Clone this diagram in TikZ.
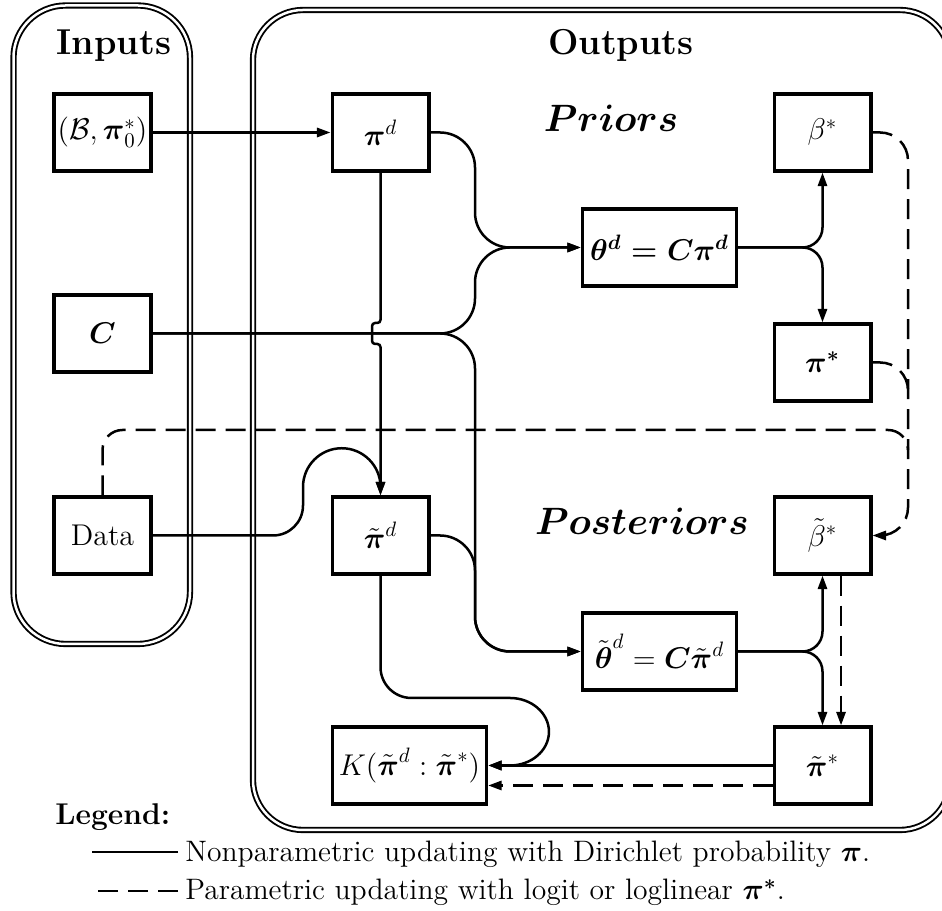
\RequirePackage{fix-cm}
\documentclass[tikz,border=0pt]{standalone}
\usepackage{amsmath}
\usepackage{tikz}
\usetikzlibrary{calc,positioning,arrows.meta}
\tikzstyle{VarBox} = [rectangle, draw, line width=1.5pt, inner sep=0pt,
    minimum width=46.5pt, minimum height=37pt, font=\Large]
\tikzstyle{WideBox} = [VarBox, minimum width=74pt]
\tikzstyle{Frame} = [double, line width=0.9pt, double distance=1.2pt]
\tikzstyle{Link} = [line width=1.2pt]
\tikzstyle{DashLink} = [line width=1.2pt, dash pattern=on 9.6pt off 4.8pt]
\tikzstyle{arrow} = [Link,->,>={Triangle[length=6.5pt,width=4.4pt]}]
\tikzstyle{dasharrow} = [DashLink,->,>={Triangle[length=6.5pt,width=4.4pt]}]

\begin{document}
\begin{tikzpicture}[x=0.48pt, y=0.48pt]
        \useasboundingbox (0,0) rectangle (942,911);
        \clip (0,0) rectangle (942,911);
        \draw [Frame, rounded corners=25pt] (13.5,267) rectangle (190,905.5); %inputs frame
        \draw [Frame, rounded corners=24pt] (253,81) rectangle (950,901); %outputs frame
        \node [anchor=base, font=\LARGE\bfseries] (InputsLbl) at (114,856) {Inputs};
        \node [anchor=base, font=\LARGE\bfseries] (OutputsLbl) at (621,856) {Outputs};
        \node [anchor=base, font=\fontsize{18.3}{22}\selectfont] (PriorsLbl) at (611,779) {$\boldsymbol{Priors}$};
        \node [anchor=base, font=\fontsize{18.3}{22}\selectfont] (PostLbl) at (642,376) {$\boldsymbol{Posteriors}$};
        % inputs
        \node [VarBox] (BPrior) at (102.5,778.5) {$(\mathcal{B},\boldsymbol{\pi}_0^*)$};
        \node [VarBox] (CMat) at (102.5,577.5) {$\boldsymbol{C}$};
        \node [VarBox] (Data) at (102.5,375.5) {Data};
        % priors
        \node [VarBox] (PiD) at (380.5,778.5) {$\boldsymbol{\pi}^d$};
        \node [WideBox] (ThetaD) at (659.5,663.5) {$\boldsymbol{\theta^d = C\pi^d}$};
        \node [VarBox] (BetaS) at (822.5,778.5) {$\beta^*$};
        \node [VarBox] (PiS) at (822.5,548.5) {$\boldsymbol{\pi^*}$};
        % posteriors
        \node [VarBox] (PiTD) at (380.5,375.5) {$\tilde{\boldsymbol{\pi}}^d$};
        \node [WideBox] (ThetaTD) at (659.5,259.5) {$\tilde{\boldsymbol{\theta}}^d = \boldsymbol{C}\tilde{\boldsymbol{\pi}}^d$};
        \node [VarBox] (BetaTS) at (822.5,375.5) {$\tilde{\beta}^*$};
        \node [VarBox] (PiTS) at (822.5,145.5) {$\tilde{\boldsymbol{\pi}}^*$};
        \node [WideBox] (KDiv) at (409.5,145.5) {$K(\tilde{\boldsymbol{\pi}}^d : \tilde{\boldsymbol{\pi}}^*)$};

        \draw [arrow] (BPrior.east) -- (PiD.west);
        \draw [arrow] [rounded corners=16.8pt] (PiD.east) -- (475,778.5) -- (475,663.5) [rounded corners=8.6pt] -- (ThetaD.west);
        \draw [arrow] [rounded corners=16.8pt] (CMat.east) -- (475,577.5) -- (475,663.5) [rounded corners=8.6pt] -- (ThetaD.west);
        \draw [arrow] [rounded corners=16.8pt] (CMat.east) -- (475,577.5) -- (475,259.5) [rounded corners=8.6pt] -- (ThetaTD.west);
        \draw [arrow] [rounded corners=16.8pt] (PiTD.east) -- (475,375.5) -- (475,259.5) [rounded corners=8.6pt] -- (ThetaTD.west);
        \draw [arrow, rounded corners=1.5pt] (PiD.south) -- (380.5,588) -- (372,588) -- (372,567) -- (380.5,567) -- (PiTD.north); %jump over C
        \draw [arrow] (Data.east) -- (273,375.5) to[out=0, in=-90] (303,405.5) -- (303,424)
            arc [start angle=180, end angle=0, radius=18.6pt] -- (PiTD.north);
        \draw [arrow, rounded corners=9.6pt] (ThetaD.east) -| (BetaS.south);
        \draw [arrow, rounded corners=9.6pt] (ThetaD.east) -| (PiS.north);
        \draw [arrow, rounded corners=9.6pt] (ThetaTD.east) -| (BetaTS.south);
        \draw [arrow, rounded corners=9.6pt] (ThetaTD.east) -| (PiTS.north);
        \draw [arrow] (PiTD.south) -- (380.5,244) to[out=-90, in=180] (411.5,213) -- (510,213)
            arc [start angle=90, end angle=-90, x radius=18.7pt, y radius=16.2pt] -- (KDiv.east);
        \draw [arrow, line width=1.9pt] (PiTS.west) -- (KDiv.east);
        % parametric updating
        \draw [dasharrow, rounded corners=13.4pt] (BetaS.east) -- (908,778.5) -- (908,375.5) -- (BetaTS.east);
        \draw [DashLink, rounded corners=13.4pt] (PiS.east) -- (908,548.5) -- (908,520.5);
        \draw [DashLink, rounded corners=9.6pt] (Data.north) -- (102.5,481) -- (908,481) -- (908,461);
        \draw [dasharrow] ([xshift=8.9pt]BetaTS.south) -- ([xshift=8.9pt]PiTS.north);
        \draw [dasharrow] ([yshift=-9.6pt]PiTS.west) -- ([yshift=-9.6pt]KDiv.east);
        % legend
        \node [anchor=base west, font=\Large\bfseries] (LegendLbl) at (48,86) {Legend:};
        \node [anchor=base west, font=\fontsize{14.2}{17}\selectfont] (LegSolid) at (178,49)
            {Nonparametric updating with Dirichlet probability $\boldsymbol{\pi}$.};
        \node [anchor=base west, font=\fontsize{14.2}{17}\selectfont] (LegDash) at (178,11)
            {Parametric updating with logit or loglinear $\boldsymbol{\pi^*}$.};
        \draw [Link] ([yshift=1.3pt]LegSolid.west) -- ++(-86,0);
        \draw [DashLink] ([yshift=0.8pt]LegDash.west) -- ++(-83,0);
\end{tikzpicture}
\end{document}
